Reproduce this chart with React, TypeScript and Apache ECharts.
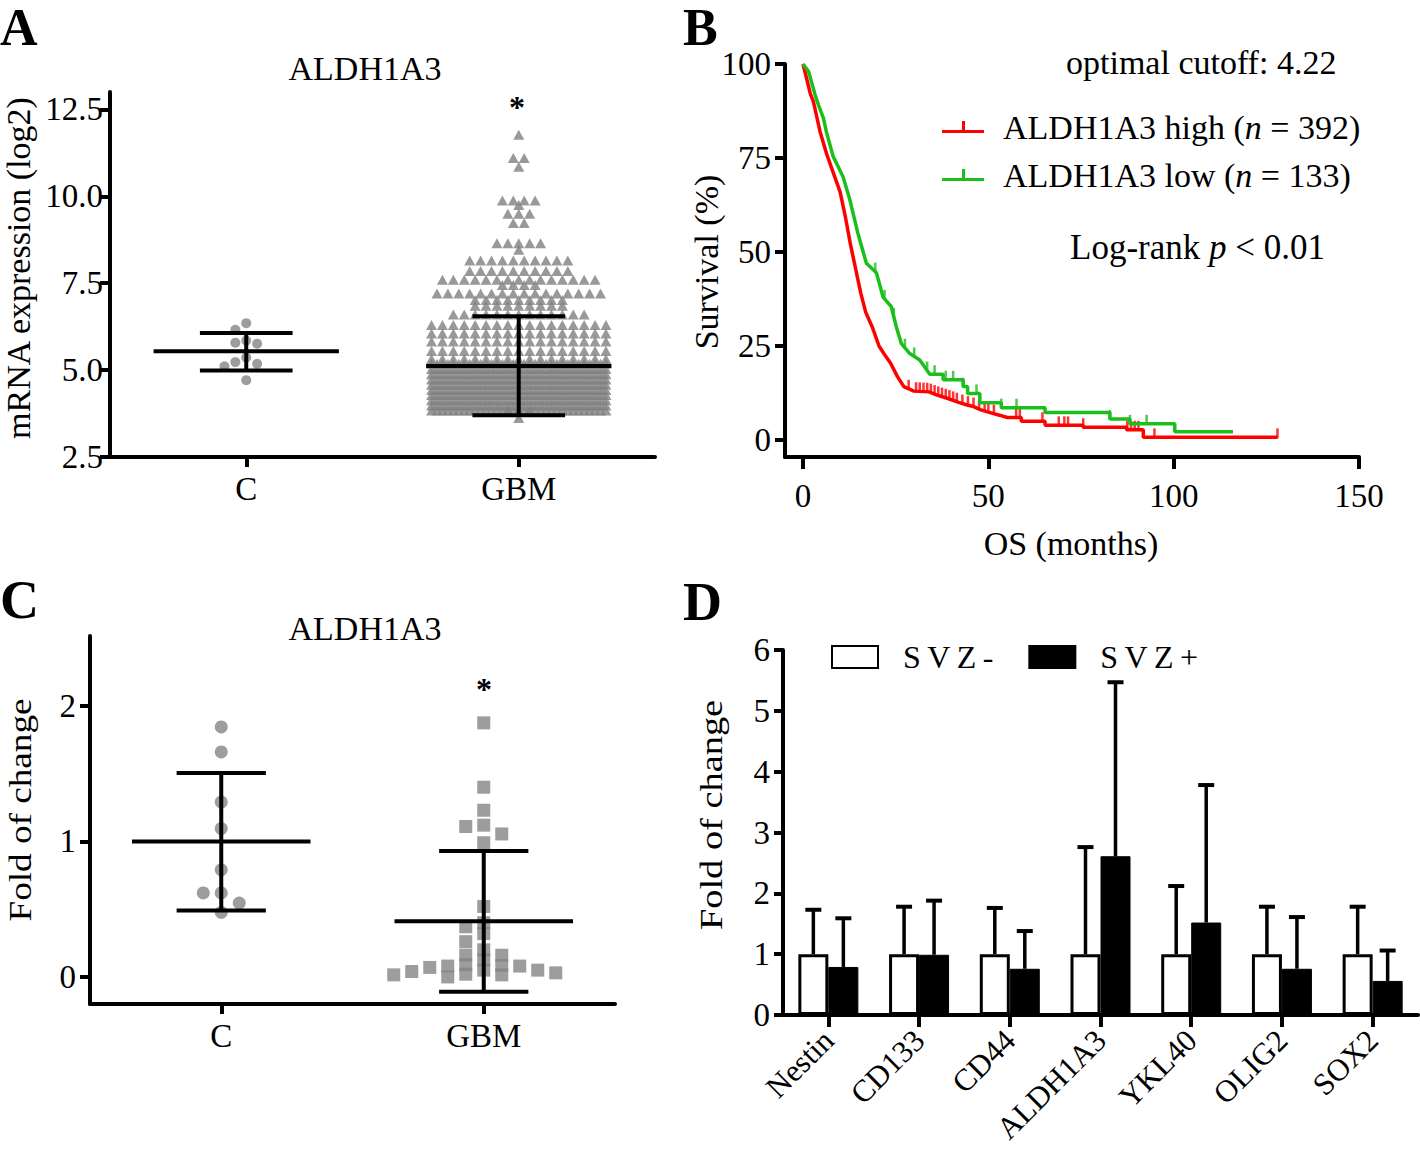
import React, { useEffect, useRef } from "react";
import * as echarts from "echarts";

const FONT = "'Liberation Serif', 'Times New Roman', serif";

// ---------------- Panel A: TCGA mRNA expression ----------------
const groupsA = ["C", "GBM"];
const controlA = [6.35, 6.16, 5.85, 5.79, 5.76, 5.36, 5.23, 5.18, 5.11, 4.71];
// GBM beeswarm rows (value level, number of triangles in that row)
const gbmLevelsA = [
  11.77, 11.1, 10.85, 9.88, 9.75, 9.5, 9.23, 8.65, 8.46, 8.15, 7.85, 7.6, 7.45,
  7.2, 7.02, 6.85, 6.6, 6.3, 6.05, 5.82, 5.55, 5.32,
  5.18, 5.03, 4.88, 4.73, 4.58, 4.43, 4.28, 4.13, 3.98, 3.84, 3.62,
];
const gbmCountsA = [
  1, 2, 1, 4, 1, 3, 2, 5, 1, 10, 10, 15, 4,
  16, 9, 9, 13, 17, 17, 17, 17, 17,
  33, 33, 33, 33, 33, 33, 33, 33, 33, 36, 1,
];
const meanA = [5.54, 5.12];
const sdLowA = [4.99, 3.7];
const sdHighA = [6.07, 6.55];
const yTicksA = [2.5, 5, 7.5, 10, 12.5];

// ---------------- Panel B: Kaplan-Meier ----------------
const kmHigh: [number, number][] = [
  [0, 100], [1, 96], [2, 92], [2.8, 90], [4.6, 82], [6.4, 76], [8.2, 71], [10, 66],
  [11.4, 59.5], [12.8, 52], [14.1, 46], [15.6, 39], [16.9, 34], [18.7, 30], [20.5, 25],
  [21.8, 23], [23.6, 20.5], [25.4, 17], [27.2, 14.2], [29.9, 13], [34, 12.8], [36, 12],
  [38.9, 11.1], [42, 10], [44.3, 9.3], [46, 8.9], [48, 8], [50, 7.4], [53, 6.6],
  [55.1, 6], [58.9, 6], [58.9, 5], [65.3, 5], [65.3, 3.9], [75.6, 3.9], [75.6, 3.4],
  [87.3, 3.4], [87.3, 2.7], [91.8, 2.7], [91.8, 0.7], [128, 0.7],
];
const kmLow: [number, number][] = [
  [0, 100], [1.5, 98], [3.2, 92], [4.2, 89], [5.5, 85.6], [6.3, 82], [8.1, 75.5],
  [10.8, 70], [12.6, 64], [14.8, 55], [17.1, 47], [19.8, 44.5], [21.6, 38], [23.8, 35.5],
  [25.2, 30], [26.5, 25.7], [28.8, 23], [31.5, 21.3], [34.2, 17.5], [37.8, 17.5],
  [37.8, 16], [43.2, 16], [43.2, 14.2], [44.4, 14.2], [44.4, 12.4], [47.7, 12.4],
  [47.7, 9.9], [53.5, 9.9], [53.5, 8.6], [65.3, 8.6], [65.3, 7.3], [82.8, 7.3],
  [82.8, 5.6], [88.2, 5.6], [88.2, 4.3], [100.3, 4.3], [100.3, 2.2], [116, 2.2],
];
const censorHigh = [
  28.5, 30.5, 31.5, 32.5, 33.5, 34.5, 35.5, 36.5, 37.5, 38.5, 39.5, 40.5, 41.5, 43, 44.5,
  46, 47.5, 49, 50, 51.5, 57.5, 58.5, 64.6, 69, 70.5, 71.5, 75.6, 87.5, 88.5, 89.5, 90.5,
  94.8, 128,
];
const censorLow = [19.5, 22, 24.5, 27.5, 30, 33.5, 35.5, 38.5, 40.5, 43.2, 46.8, 53.5, 57.6, 82.8, 88.2, 92.7];
const nHigh = 392;
const nLow = 133;
const xTicksB = [0, 50, 100, 150];
const yTicksB = [0, 25, 50, 75, 100];

// ---------------- Panel C: qPCR ----------------
const groupsC = ["C", "GBM"];
const controlC = [1.845, 1.66, 1.29, 1.095, 0.79, 0.62, 0.62, 0.545, 0.477];
const gbmC = [
  1.875, 1.4, 1.23, 1.12, 1.11, 1.055, 0.99, 0.52, 0.4, 0.37, 0.32, 0.26, 0.2, 0.16, 0.16,
  0.125, 0.09, 0.085, 0.08, 0.08, 0.07, 0.05, 0.05, 0.04, 0.03, 0.02, 0.015, 0.015, 0.0,
];
const meanC = [1.0, 0.41];
const sdLowC = [0.49, -0.11];
const sdHighC = [1.505, 0.93];
const yTicksC = [0, 1, 2];

// ---------------- Panel D: bar chart ----------------
const genesD = ["Nestin", "CD133", "CD44", "ALDH1A3", "YKL40", "OLIG2", "SOX2"];
const svzNeg = [1, 1, 1, 1, 1, 1, 1];
const svzNegErr = [1.73, 1.78, 1.76, 2.76, 2.12, 1.78, 1.78];
const svzPos = [0.79, 0.99, 0.76, 2.61, 1.52, 0.76, 0.56];
const svzPosErr = [1.59, 1.88, 1.38, 5.47, 3.78, 1.61, 1.06];

// ---------------- layout ----------------
const GA = { left: 110, top: 92, width: 545, height: 365 };
const GB = { left: 785, top: 64, width: 574, height: 393 };
const GC = { left: 90, top: 636, width: 525, height: 368 };
const GD = { left: 783, top: 650, width: 635, height: 365 };

function swarmSlots(values: number[], pxPerUnitY: number, slotPx: number, sizePx: number): number[] {
  const order = values.map((v, i) => ({ v, i })).sort((a, b) => b.v - a.v);
  const placed: { v: number; s: number }[] = [];
  const out = new Array(values.length).fill(0);
  for (const p of order) {
    for (let k = 0; k < 40; k++) {
      const s = k === 0 ? 0 : k % 2 === 1 ? -Math.ceil(k / 2) : Math.ceil(k / 2);
      const ok = placed.every(
        (q) => Math.abs(q.s - s) * slotPx >= sizePx || Math.abs(q.v - p.v) * pxPerUnitY >= sizePx
      );
      if (ok) {
        placed.push({ v: p.v, s });
        out[p.i] = s;
        break;
      }
    }
  }
  return out;
}

function rowSlots(levels: number[], counts: number[], maxPerRow: number): [number, number][] {
  const out: [number, number][] = [];
  levels.forEach((lv, r) => {
    let remaining = counts[r];
    let layer = 0;
    while (remaining > 0) {
      const cap = layer % 2 === 0 ? maxPerRow : maxPerRow - 1;
      const m = Math.min(remaining, cap);
      for (let i = 0; i < m; i++) out.push([i - (m - 1) / 2, lv]);
      remaining -= m;
      layer++;
    }
  });
  return out;
}

function valueOnCurve(curve: [number, number][], t: number): number {
  let v = curve[0][1];
  for (let i = 0; i < curve.length - 1; i++) {
    const [t0, s0] = curve[i];
    const [t1, s1] = curve[i + 1];
    if (t >= t0 && t < t1) return s0 + ((t - t0) / (t1 - t0)) * (s1 - s0);
    if (t >= t1) v = s1;
  }
  return v;
}

const lineSt = { color: "#000", width: 4 };

function meanSdRenderer(halfMean: number, halfCap: number) {
  return (params: any, api: any) => {
    const x = api.value(0);
    const m = api.value(1);
    const lo = api.value(2);
    const hi = api.value(3);
    const seg = (a: number[], b: number[]) => ({
      type: "line",
      shape: { x1: a[0], y1: a[1], x2: b[0], y2: b[1] },
      style: { stroke: "#000", lineWidth: 4 },
    });
    return {
      type: "group",
      children: [
        seg(api.coord([x, lo]), api.coord([x, hi])),
        seg(api.coord([x - halfMean, m]), api.coord([x + halfMean, m])),
        seg(api.coord([x - halfCap, hi]), api.coord([x + halfCap, hi])),
        seg(api.coord([x - halfCap, lo]), api.coord([x + halfCap, lo])),
      ],
    };
  };
}

function barErrRenderer(dx: number) {
  return (params: any, api: any) => {
    const i = api.value(0);
    const m = api.value(1);
    const e = api.value(2);
    const base = api.coord([i, m]);
    const top = api.coord([i, e]);
    const x = base[0] + dx;
    return {
      type: "group",
      children: [
        { type: "line", shape: { x1: x, y1: base[1], x2: x, y2: top[1] }, style: { stroke: "#000", lineWidth: 3.5 } },
        { type: "line", shape: { x1: x - 8, y1: top[1], x2: x + 8, y2: top[1] }, style: { stroke: "#000", lineWidth: 4 } },
      ],
    };
  };
}

function txt(text: string, x: number, y: number, size: number, opts: any = {}) {
  return {
    type: "text",
    x,
    y,
    rotation: opts.rotation || 0,
    scaleX: opts.scaleX || 1,
    scaleY: opts.scaleY || 1,
    z: 100,
    style: {
      text,
      fill: "#000",
      fontFamily: FONT,
      fontSize: size,
      fontWeight: opts.bold ? "bold" : "normal",
      align: opts.align || "center",
      textAlign: opts.align || "center",
      verticalAlign: "middle",
      textVerticalAlign: "middle",
      rich: opts.rich,
    },
  };
}

function axisBase(gridIndex: number, min: number, max: number, ticks: number[], tickLen: number, margin: number, formatter?: any) {
  return {
    gridIndex,
    type: "value",
    min,
    max,
    axisLine: { show: true, onZero: false, lineStyle: lineSt },
    axisTick: { show: true, customValues: ticks, length: tickLen, lineStyle: lineSt },
    axisLabel: {
      customValues: ticks,
      formatter,
      fontFamily: FONT,
      fontSize: 33,
      color: "#000",
      margin,
    },
    splitLine: { show: false },
  };
}

function buildOption() {
  const slotA = 10.9 / (GA.width / 2);
  const pxYA = GA.height / (13 - 2.5);
  const ctrlSlotsA = swarmSlots(controlA, pxYA, 10.9, 10);
  const gbmRowsA = rowSlots(gbmLevelsA, gbmCountsA, 17);

  const slotC = 18 / (GC.width / 2);
  const pxYC = GC.height / (2.516 + 0.2);
  const ctrlSlotsC = swarmSlots(controlC, pxYC, 18, 12);
  const gbmSlotsC = swarmSlots(gbmC, pxYC, 18, 9);

  const italicRich = (size: number) => ({
    i: { fontStyle: "italic", fontFamily: FONT, fontSize: size, color: "#000" },
  });

  return {
    animation: false,
    textStyle: { fontFamily: FONT },
    grid: [GA, GB, GC, GD].map((g) => ({ ...g, containLabel: false, outerBoundsMode: "none" })),
    legend: [
      {
        data: ["ALDH1A3 high", "ALDH1A3 low"],
        orient: "vertical",
        left: 937,
        top: 104,
        itemWidth: 42,
        itemHeight: 12,
        itemGap: 12,
        icon: "path://M0,9h42v3h-42z M20,0h3v9h-3z",
        formatter: (name: string) =>
          name === "ALDH1A3 high" ? `ALDH1A3 high ({i|n} = ${nHigh})` : `ALDH1A3 low ({i|n} = ${nLow})`,
        textStyle: {
          fontFamily: FONT,
          fontSize: 34,
          lineHeight: 36,
          color: "#000",
          padding: [0, 0, 0, 14],
          rich: italicRich(34),
        },
      },
      {
        data: ["SVZ-", "SVZ+"],
        left: 826,
        top: 636,
        itemWidth: 46,
        itemHeight: 22,
        itemGap: 35,
        icon: "rect",
        formatter: (name: string) => name.split("").join("\u2009"),
        textStyle: { fontFamily: FONT, fontSize: 32, color: "#000", padding: [0, 0, 0, 20] },
      },
    ],
    xAxis: [
      axisBase(0, 0, 2, [0.5, 1.5], 10, 15, (v: number) => groupsA[Math.round(v - 0.5)]),
      axisBase(1, -4.86, 150, xTicksB, 12, 22, (v: number) => String(v)),
      axisBase(2, 0, 2, [0.5, 1.5], 10, 15, (v: number) => groupsC[Math.round(v - 0.5)]),
      {
        gridIndex: 3,
        type: "category",
        data: genesD,
        axisLine: { show: true, onZero: false, lineStyle: lineSt },
        axisTick: { show: true, alignWithLabel: true, length: 12, lineStyle: lineSt },
        axisLabel: { rotate: 45, interval: 0, fontFamily: FONT, fontSize: 31, color: "#000", margin: 20 },
        splitLine: { show: false },
      },
    ],
    yAxis: [
      axisBase(0, 2.5, 13, yTicksA, 10, 7, (v: number) => v.toFixed(1)),
      axisBase(1, -4.52, 100, yTicksB, 10, 14, (v: number) => String(v)),
      axisBase(2, -0.2, 2.516, yTicksC, 10, 14, (v: number) => String(v)),
      {
        gridIndex: 3,
        type: "value",
        min: 0,
        max: 6,
        interval: 1,
        axisLine: { show: true, onZero: false, lineStyle: lineSt },
        axisTick: { show: true, length: 9, lineStyle: lineSt },
        axisLabel: { fontFamily: FONT, fontSize: 33, color: "#000", margin: 13 },
        splitLine: { show: false },
      },
    ],
    series: [
      // ---- A ----
      {
        type: "scatter",
        xAxisIndex: 0,
        yAxisIndex: 0,
        symbol: "circle",
        symbolSize: 10,
        itemStyle: { color: "#858585" },
        data: controlA.map((v, i) => [0.5 + ctrlSlotsA[i] * slotA, v]),
      },
      {
        type: "scatter",
        xAxisIndex: 0,
        yAxisIndex: 0,
        symbol: "triangle",
        symbolSize: [11, 10],
        itemStyle: { color: "#808080" },
        data: gbmRowsA.map(([s, v]) => [1.5 + s * slotA, v]),
      },
      {
        type: "custom",
        xAxisIndex: 0,
        yAxisIndex: 0,
        renderItem: meanSdRenderer(0.34, 0.17),
        data: meanA.map((m, i) => [0.5 + i, m, sdLowA[i], sdHighA[i]]),
        z: 5,
      },
      // ---- B ----
      {
        type: "line",
        name: "ALDH1A3 high",
        xAxisIndex: 1,
        yAxisIndex: 1,
        data: kmHigh,
        symbol: "none",
        showSymbol: false,
        clip: false,
        lineStyle: { color: "#ff0000", width: 3.5 },
        itemStyle: { color: "#ff0000" },
      },
      {
        type: "scatter",
        xAxisIndex: 1,
        yAxisIndex: 1,
        symbol: "rect",
        symbolSize: [2.5, 10],
        symbolOffset: [0, -4],
        itemStyle: { color: "#ff0000" },
        data: censorHigh.map((t) => [t, valueOnCurve(kmHigh, t)]),
      },
      {
        type: "line",
        name: "ALDH1A3 low",
        xAxisIndex: 1,
        yAxisIndex: 1,
        data: kmLow,
        symbol: "none",
        showSymbol: false,
        clip: false,
        lineStyle: { color: "#1bbf1b", width: 3.5 },
        itemStyle: { color: "#1bbf1b" },
      },
      {
        type: "scatter",
        xAxisIndex: 1,
        yAxisIndex: 1,
        symbol: "rect",
        symbolSize: [2.5, 10],
        symbolOffset: [0, -4],
        itemStyle: { color: "#1bbf1b" },
        data: censorLow.map((t) => [t, valueOnCurve(kmLow, t)]),
      },
      // ---- C ----
      {
        type: "scatter",
        xAxisIndex: 2,
        yAxisIndex: 2,
        symbol: "circle",
        symbolSize: 13,
        itemStyle: { color: "#858585" },
        data: controlC.map((v, i) => [0.5 + ctrlSlotsC[i] * slotC, v]),
      },
      {
        type: "scatter",
        xAxisIndex: 2,
        yAxisIndex: 2,
        symbol: "rect",
        symbolSize: 13,
        itemStyle: { color: "#858585" },
        data: gbmC.map((v, i) => [1.5 + gbmSlotsC[i] * slotC, v]),
      },
      {
        type: "custom",
        xAxisIndex: 2,
        yAxisIndex: 2,
        renderItem: meanSdRenderer(0.34, 0.17),
        data: meanC.map((m, i) => [0.5 + i, m, sdLowC[i], sdHighC[i]]),
        z: 5,
      },
      // ---- D ----
      {
        type: "bar",
        name: "SVZ-",
        xAxisIndex: 3,
        yAxisIndex: 3,
        barWidth: 30,
        barGap: "0%",
        itemStyle: { color: "#ffffff", borderColor: "#000", borderWidth: 3 },
        data: svzNeg,
      },
      {
        type: "bar",
        name: "SVZ+",
        xAxisIndex: 3,
        yAxisIndex: 3,
        barWidth: 30,
        barGap: "0%",
        itemStyle: { color: "#000000", borderColor: "#000", borderWidth: 1 },
        data: svzPos,
      },
      {
        type: "custom",
        xAxisIndex: 3,
        yAxisIndex: 3,
        renderItem: barErrRenderer(-15),
        data: svzNeg.map((m, i) => [i, m, svzNegErr[i]]),
        z: 5,
      },
      {
        type: "custom",
        xAxisIndex: 3,
        yAxisIndex: 3,
        renderItem: barErrRenderer(15),
        data: svzPos.map((m, i) => [i, m, svzPosErr[i]]),
        z: 5,
      },
    ],
    graphic: [
      txt("A", 0, 27, 52, { bold: true, align: "left" }),
      txt("B", 683, 27, 52, { bold: true, align: "left" }),
      txt("C", 0, 600, 54, { bold: true, align: "left" }),
      txt("D", 683, 602, 54, { bold: true, align: "left" }),
      txt("ALDH1A3", 365, 68, 34),
      txt("ALDH1A3", 365, 628, 34),
      txt("*", 517, 107, 32, { bold: true }),
      txt("*", 484, 689, 32, { bold: true }),
      txt("mRNA expression (log2)", 18, 268, 34, { rotation: Math.PI / 2 }),
      txt("Survival (%)", 706, 262, 34, { rotation: Math.PI / 2 }),
      txt("Fold of change", 20, 810, 31, { rotation: Math.PI / 2, scaleX: 1.2 }),
      txt("Fold of change", 712, 815, 32, { rotation: Math.PI / 2, scaleX: 1.2 }),
      txt("OS (months)", 1071, 543, 34),
      txt("optimal cutoff: 4.22", 1066, 62, 34, { align: "left" }),
      txt("Log-rank {i|p} < 0.01", 1070, 247, 35, { align: "left", rich: italicRich(35) }),
    ],
  };
}

export default function App() {
  const ref = useRef<HTMLDivElement>(null);
  useEffect(() => {
    document.body.style.margin = "0";
    const chart = echarts.init(ref.current as HTMLDivElement, undefined, { renderer: "svg" });
    chart.setOption(buildOption() as any);
    return () => chart.dispose();
  }, []);
  return <div ref={ref} style={{ width: 1420, height: 1149 }} />;
}
